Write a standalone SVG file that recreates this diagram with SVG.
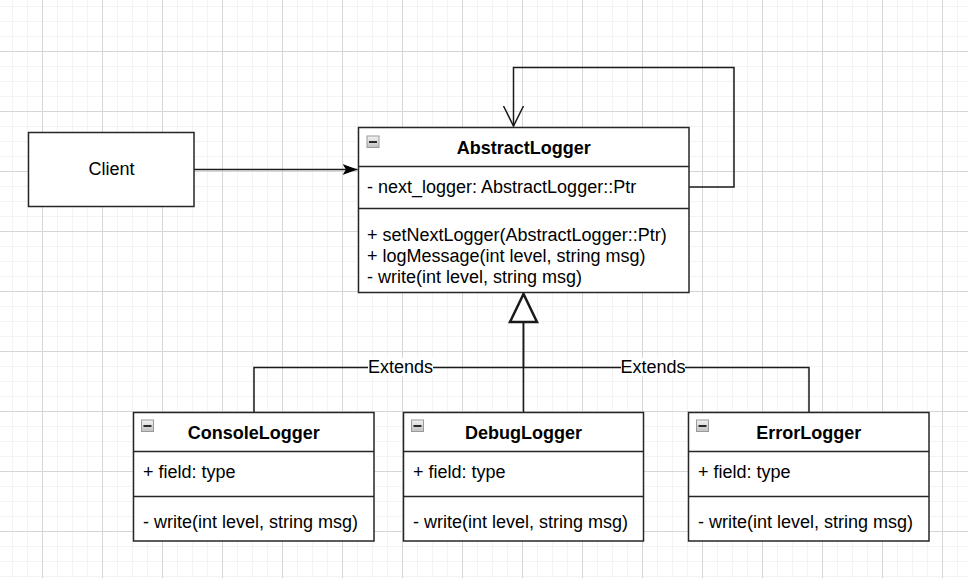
<svg xmlns="http://www.w3.org/2000/svg" width="968" height="578" viewBox="0 0 968 578">
<style>
  .box { fill: #ffffff; stroke: #262626; stroke-width: 1.5; }
  .div { stroke: #262626; stroke-width: 1.5; fill: none; }
  .t { font-family: "Liberation Sans", Arial, sans-serif; font-size: 18px; fill: #000; }
  .h { font-family: "Liberation Sans", Arial, sans-serif; font-size: 18px; font-weight: bold; fill: #000; text-anchor: middle; }
  .c { text-anchor: middle; }
  .edge { stroke: #1a1a1a; stroke-width: 1.5; fill: none; }
  .lbl { fill: #ffffff; stroke: none; }
</style>
<defs>
  <pattern id="grid" patternUnits="userSpaceOnUse" x="42" y="51" width="60" height="60">
    <rect width="60" height="60" fill="#ffffff"/>
    <path d="M15.5,0 V60 M30.5,0 V60 M45.5,0 V60 M0,15.5 H60 M0,30.5 H60 M0,45.5 H60" stroke="#f3f3f3" stroke-width="1"/>
    <path d="M0.5,0 V60 M0,0.5 H60" stroke="#d6d6d6" stroke-width="1"/>
  </pattern>
  <linearGradient id="icon" x1="0" y1="0" x2="0" y2="1">
    <stop offset="0" stop-color="#f4f4f4"/>
    <stop offset="1" stop-color="#c0c0c0"/>
  </linearGradient>
  <g id="collapse">
    <rect x="0.5" y="0.5" width="12" height="11.5" fill="url(#icon)" stroke="#9a9a9a" stroke-width="1"/>
    <rect x="2.5" y="5.5" width="8" height="2" fill="#2a2a2a"/>
  </g>
  <marker id="filled" markerUnits="userSpaceOnUse" markerWidth="16" markerHeight="12" refX="15" refY="6" orient="auto">
    <path d="M0,0.5 L15,6 L0,11.5 L3.5,6 Z" fill="#000"/>
  </marker>
  <marker id="open" markerUnits="userSpaceOnUse" markerWidth="24" markerHeight="24" refX="20" refY="12" orient="auto">
    <path d="M0,2 L20,12 L0,22" fill="none" stroke="#1a1a1a" stroke-width="1.5"/>
  </marker>
</defs>
<rect width="968" height="578" fill="url(#grid)"/>

<g id="connectors">
  <path class="edge" d="M194,169.5 H357.5" marker-end="url(#filled)"/>
  <path class="edge" d="M689,187 H734 V67.5 H513.5 V126" marker-end="url(#open)"/>
  <path class="edge" d="M523.5,322 V412.5"/>
  <path class="edge" d="M523.5,322 V367.5" stroke-width="2.5"/>
  <path class="edge" d="M254,412.5 V367.5 H809 V412.5"/>
  <polygon points="523.5,294 510,322 537,322" fill="#ffffff" stroke="#1a1a1a" stroke-width="2.5" stroke-linejoin="miter"/>
  <rect class="lbl" x="368" y="358" width="65" height="18"/>
  <text class="t c" x="400.5" y="372.5">Extends</text>
  <rect class="lbl" x="621" y="358" width="64" height="18"/>
  <text class="t c" x="653" y="372.5">Extends</text>
</g>

<g id="client">
  <rect class="box" x="28.5" y="132.5" width="165.5" height="74"/>
  <text class="t c" x="111.5" y="175">Client</text>
</g>

<g id="abstract-logger">
  <rect class="box" x="358.5" y="127.5" width="330.5" height="165"/>
  <path class="div" d="M358.5,166.5 H689 M358.5,208.5 H689"/>
  <use href="#collapse" x="366.5" y="135.5"/>
  <text class="h" x="523.75" y="153.5">AbstractLogger</text>
  <text class="t" x="367" y="193">- next_logger: AbstractLogger::Ptr</text>
  <text class="t" x="367" y="241">+ setNextLogger(AbstractLogger::Ptr)</text>
  <text class="t" x="367" y="262">+ logMessage(int level, string msg)</text>
  <text class="t" x="367" y="283">- write(int level, string msg)</text>
</g>

<g id="console-logger">
  <rect class="box" x="133.5" y="412.5" width="240.5" height="128.5"/>
  <path class="div" d="M133.5,451.5 H374 M133.5,496.5 H374"/>
  <use href="#collapse" x="141" y="419.5"/>
  <text class="h" x="253.75" y="438.5">ConsoleLogger</text>
  <text class="t" x="143" y="477.5">+ field: type</text>
  <text class="t" x="143" y="528">- write(int level, string msg)</text>
</g>

<g id="debug-logger">
  <rect class="box" x="403.5" y="412.5" width="240" height="128.5"/>
  <path class="div" d="M403.5,451.5 H643.5 M403.5,496.5 H643.5"/>
  <use href="#collapse" x="411" y="419.5"/>
  <text class="h" x="523.5" y="438.5">DebugLogger</text>
  <text class="t" x="413" y="477.5">+ field: type</text>
  <text class="t" x="413" y="528">- write(int level, string msg)</text>
</g>

<g id="error-logger">
  <rect class="box" x="688.5" y="412.5" width="240.5" height="128.5"/>
  <path class="div" d="M688.5,451.5 H929 M688.5,496.5 H929"/>
  <use href="#collapse" x="696" y="419.5"/>
  <text class="h" x="808.75" y="438.5">ErrorLogger</text>
  <text class="t" x="698" y="477.5">+ field: type</text>
  <text class="t" x="698" y="528">- write(int level, string msg)</text>
</g>
</svg>
